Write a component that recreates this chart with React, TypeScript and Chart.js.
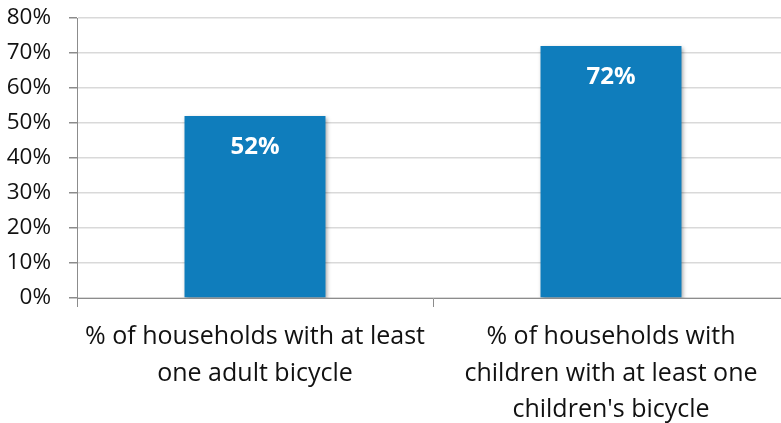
import React, { useEffect, useRef } from "react";
import { Chart, registerables } from "chart.js";

Chart.register(...registerables);

const categories: string[][] = [
  ["% of households with at least", "one adult bicycle"],
  ["% of households with", "children with at least one", "children's bicycle"],
];
const values: number[] = [52, 72];
const yTicks: number[] = [0, 10, 20, 30, 40, 50, 60, 70, 80];

const BAR = "#0f7dbc";
const FONT = "'Open Sans', 'Liberation Sans', sans-serif";

const valueLabels = {
  id: "valueLabels",
  afterDatasetsDraw(chart: any) {
    const ctx = chart.ctx;
    const meta = chart.getDatasetMeta(0);
    ctx.save();
    ctx.fillStyle = "#ffffff";
    ctx.font = `bold 24px ${FONT}`;
    ctx.textAlign = "center";
    ctx.textBaseline = "middle";
    meta.data.forEach((el: any, i: number) => {
      ctx.fillText(values[i] + "%", el.x, el.y + 31);
    });
    ctx.restore();
  },
};

const barShadow = {
  id: "barShadow",
  beforeDatasetDraw(chart: any) {
    const ctx = chart.ctx;
    ctx.save();
    ctx.shadowColor = "rgba(0,0,0,0.35)";
    ctx.shadowBlur = 4;
    ctx.shadowOffsetX = 1.5;
    ctx.shadowOffsetY = 1.5;
  },
  afterDatasetDraw(chart: any) {
    chart.ctx.restore();
  },
};

export default function App() {
  const ref = useRef<HTMLCanvasElement | null>(null);
  useEffect(() => {
    document.body.style.overflow = "hidden";
    if (!ref.current) return;
    const chart = new Chart(ref.current, {
      type: "bar",
      data: {
        labels: categories as any,
        datasets: [
          {
            data: values,
            backgroundColor: BAR,
            barPercentage: 0.396,
            categoryPercentage: 1,
          },
        ],
      },
      options: {
        animation: false,
        responsive: false,
        maintainAspectRatio: false,
        layout: { padding: { top: 18, right: 0, left: 0, bottom: 0 } },
        plugins: { legend: { display: false }, tooltip: { enabled: false } },
        scales: {
          x: {
            afterFit: (s: any) => {
              s.height = 125;
              s.paddingLeft = 0;
              s.paddingRight = 0;
              s.paddingTop = 0;
              s.paddingBottom = 0;
            },
            grid: {
              offset: true,
              drawOnChartArea: false,
              color: "#8c8c8c",
              tickLength: 9,
            },
            border: { color: "#8c8c8c" },
            ticks: {
              color: "#111111",
              font: { family: FONT, size: 25, lineHeight: 1.45 },
              padding: 12,
              maxRotation: 0,
              autoSkip: false,
            },
          },
          y: {
            min: 0,
            max: 80,
            afterFit: (s: any) => {
              s.width = 77;
              s.paddingTop = 0;
              s.paddingBottom = 0;
              s.paddingLeft = 0;
              s.paddingRight = 0;
            },
            afterBuildTicks: (s: any) => {
              s.ticks = yTicks.map((v) => ({ value: v }));
            },
            grid: {
              color: "#d9d9d9",
              tickColor: "#8c8c8c",
              tickLength: 8,
              lineWidth: 1.5,
            },
            border: { color: "#8c8c8c" },
            ticks: {
              color: "#111111",
              font: { family: FONT, size: 22.5 },
              padding: 18,
              callback: (v: any) => v + "%",
            },
          },
        },
      },
      plugins: [barShadow, valueLabels],
    });
    return () => chart.destroy();
  }, []);
  return (
    <div style={{ position: "fixed", left: 0, top: 0, width: 789, height: 423 }}>
      <canvas ref={ref} width={789} height={423} style={{ width: 789, height: 423 }} />
    </div>
  );
}
